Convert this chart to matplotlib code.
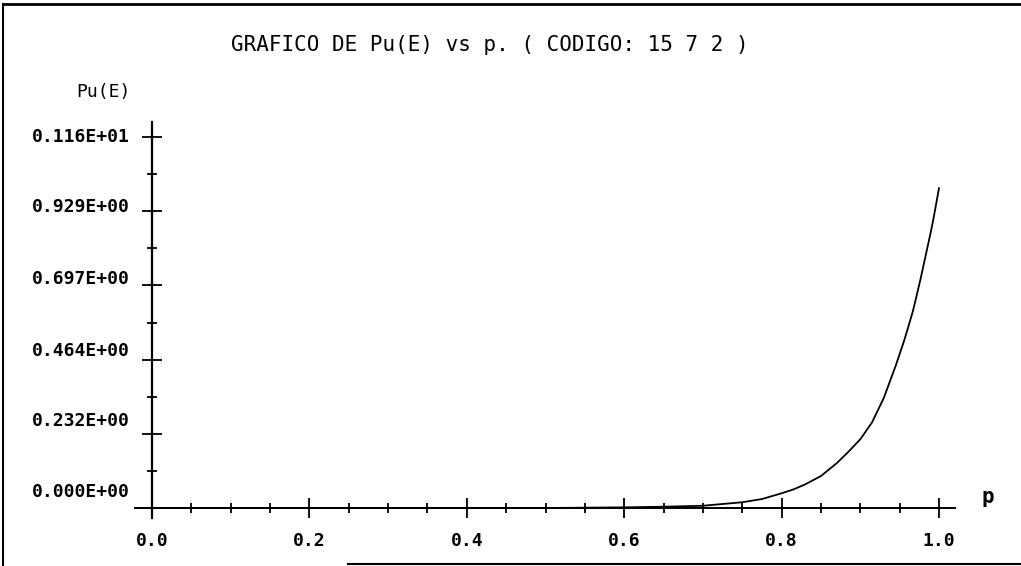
import matplotlib
matplotlib.use("Agg")
import matplotlib.pyplot as plt
from matplotlib.lines import Line2D
import numpy as np

# values
p = [0.0, 0.1, 0.2, 0.3, 0.4, 0.5, 0.6, 0.65, 0.7, 0.75, 0.775, 0.8, 0.815,
     0.83, 0.85, 0.87, 0.885, 0.9, 0.915, 0.93, 0.945, 0.955, 0.96, 0.967,
     0.976, 0.984, 0.99, 0.993, 1.0]
pu = [0.0, 0.0, 0.0, 0.0, 0.0, 0.0, 0.002, 0.004, 0.007, 0.018, 0.028, 0.046,
      0.058, 0.074, 0.100, 0.140, 0.176, 0.215, 0.268, 0.345, 0.445, 0.518,
      0.558, 0.617, 0.710, 0.800, 0.868, 0.905, 1.0]

y_ticks = [0.0, 0.232, 0.464, 0.697, 0.929, 1.16]
y_labels = ["0.000E+00", "0.232E+00", "0.464E+00", "0.697E+00", "0.929E+00", "0.116E+01"]
x_ticks = [0.0, 0.2, 0.4, 0.6, 0.8, 1.0]
x_labels = ["0.0", "0.2", "0.4", "0.6", "0.8", "1.0"]

title = "GRAFICO DE Pu(E) vs p. ( CODIGO: 15 7 2 )"

W, H = 1021, 566
mono = "DejaVu Sans Mono"

fig = plt.figure(figsize=(W / 100, H / 100), dpi=100)
ax = fig.add_axes([135 / W, 1 - 518 / H, (955 - 135) / W, (518 - 122) / H])

# p=0 at px 152, p=1 at px 939 ; y=0 at px 508, y=1.16 at px 137
sx = 787.0
sy = 371.0 / 1.16
ax.set_xlim(-17 / sx, 1 + 16 / sx)
ax.set_ylim(-10 / sy, (508 - 122) / sy)

ax.plot(p, pu, color="black", lw=1.3)

for s in ["top", "right"]:
    ax.spines[s].set_visible(False)
ax.spines["left"].set_position(("data", 0))
ax.spines["bottom"].set_position(("data", 0))
ax.spines["left"].set_linewidth(1.6)
ax.spines["bottom"].set_linewidth(1.4)

ax.set_xticks(x_ticks)
ax.set_xticks(np.arange(0, 1.001, 0.05), minor=True)
ax.set_yticks(y_ticks)
ax.set_yticks([0.116, 0.348, 0.580, 0.813, 1.045], minor=True)
ax.set_xticklabels(x_labels, fontfamily=mono, fontweight="bold", fontsize=13)
ax.set_yticklabels([])
ax.tick_params(axis="both", which="major", direction="inout", length=15, width=1.3)
ax.tick_params(axis="both", which="minor", direction="inout", length=7, width=1.3)
ax.tick_params(axis="x", which="major", pad=10)

# old printout: y labels sit a bit above their ticks
offsets = [16, 13, 9, 6, 4, 0]
for v, lab, off in zip(y_ticks, y_labels, offsets):
    ax.annotate(lab, xy=(0, v), xytext=(-22, off), textcoords="offset pixels",
                ha="right", va="center", fontfamily=mono, fontweight="bold",
                fontsize=13)

fig.text(490 / W, 1 - 45 / H, title, ha="center", va="center",
         fontfamily=mono, fontsize=15)
fig.text(103 / W, 1 - 92 / H, "Pu(E)", ha="center", va="center",
         fontfamily=mono, fontsize=13)
fig.text(988 / W, 1 - 497 / H, "p", ha="center", va="center",
         fontfamily=mono, fontweight="bold", fontsize=15)

# scan border lines
fig.add_artist(Line2D([3 / W, 3 / W], [0, 1 - 4 / H], color="black", lw=1.5))
fig.add_artist(Line2D([3 / W, 1], [1 - 4 / H, 1 - 4 / H], color="black", lw=2))
fig.add_artist(Line2D([348 / W, 1], [1 - 564 / H, 1 - 564 / H], color="black", lw=1.5))

fig.savefig("out.png", dpi=100)
